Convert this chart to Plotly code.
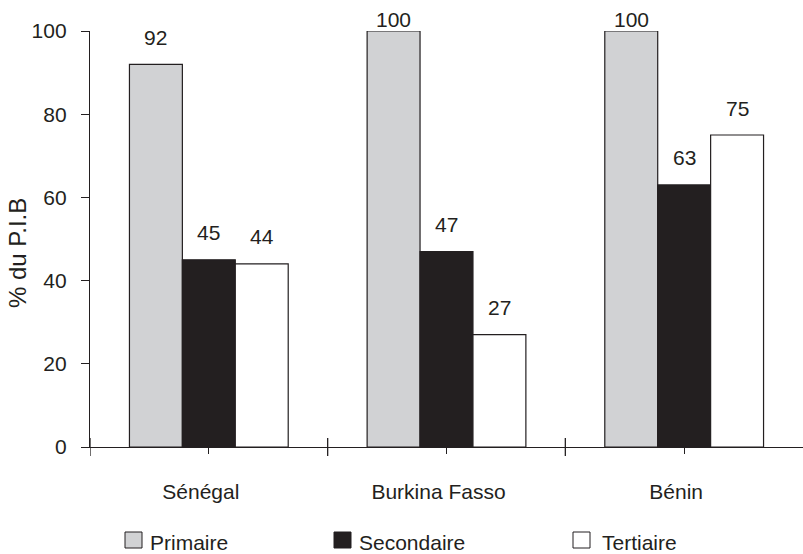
import plotly.graph_objects as go

# Data
countries = ["Sénégal", "Burkina Fasso", "Bénin"]
series_names = ["Primaire", "Secondaire", "Tertiaire"]
primaire = [92, 100, 100]
secondaire = [45, 47, 63]
tertiaire = [44, 27, 75]
y_ticks = [0, 20, 40, 60, 80, 100]

series_values = [primaire, secondaire, tertiaire]
fill_colors = ["#d1d2d4", "#231f20", "#ffffff"]
ink = "#231f20"
font_family = "Liberation Sans, Arial, Helvetica, sans-serif"
font_size = 21

W, H = 803, 554
M_L, M_R, M_T, M_B = 90, 0, 31, 107
PW, PH = W - M_L - M_R, H - M_T - M_B

bargap = 0.332
bar_w = (1 - bargap) / 3


def px_x(px):
    return (px - M_L) / PW


def px_y(py):
    return (H - M_B - py) / PH


fig = go.Figure()
x_idx = list(range(len(countries)))
for name, vals, col in zip(series_names, series_values, fill_colors):
    fig.add_trace(go.Bar(
        x=x_idx, y=vals, name=name, showlegend=False,
        marker=dict(color=col, line=dict(color=ink, width=1.2)),
    ))

# Value labels above each bar
annotations = []
for j, vals in enumerate(series_values):
    for i, v in enumerate(vals):
        annotations.append(dict(
            x=i + (j - 1) * bar_w, y=v, xref="x", yref="y",
            text=str(v), showarrow=False, yanchor="middle",
            yshift=12 if v >= 100 else 27,
            font=dict(family=font_family, size=font_size, color=ink),
        ))

# Y axis title
annotations.append(dict(
    x=0, y=px_y(253), xref="paper", yref="paper", xshift=-73,
    text="% du P.I.B", textangle=-90, showarrow=False,
    xanchor="center", yanchor="middle",
    font=dict(family=font_family, size=24, color=ink),
))

# Legend drawn as squares + labels along the bottom
shapes = []
legend_sq_x = [125, 334, 573]
legend_txt_x = [148, 357, 600]
for name, col, sx, tx in zip(series_names, fill_colors, legend_sq_x, legend_txt_x):
    shapes.append(dict(
        type="rect", xref="paper", yref="paper",
        x0=px_x(sx), x1=px_x(sx + 17), y0=px_y(548), y1=px_y(532),
        fillcolor=col, line=dict(color=ink, width=1),
    ))
    annotations.append(dict(
        x=px_x(tx), y=px_y(542), xref="paper", yref="paper",
        text=name, showarrow=False, xanchor="left", yanchor="middle",
        font=dict(family=font_family, size=font_size, color=ink),
    ))

# Category boundary ticks crossing the x axis
for b in [-0.5, 0.5, 1.5]:
    shapes.append(dict(
        type="line", xref="x", yref="paper", x0=b, x1=b,
        y0=px_y(456), y1=px_y(438),
        line=dict(color=ink, width=1.3),
    ))

fig.update_layout(
    width=W, height=H,
    margin=dict(l=M_L, r=M_R, t=M_T, b=M_B),
    paper_bgcolor="white", plot_bgcolor="white",
    barmode="group", bargap=bargap, bargroupgap=0,
    font=dict(family=font_family, size=font_size, color=ink),
    xaxis=dict(
        range=[-0.5, 2.5], tickmode="array", tickvals=x_idx, ticktext=countries,
        showline=True, linecolor=ink, linewidth=1.3,
        ticks="outside", ticklen=6, tickwidth=1.3, tickcolor=ink,
        ticklabelstandoff=20, ticklabelshift=-8,
        showgrid=False, zeroline=False,
    ),
    yaxis=dict(
        range=[0, 100], tickmode="array", tickvals=y_ticks,
        showline=True, linecolor=ink, linewidth=1.3,
        ticks="outside", ticklen=8, tickwidth=1.3, tickcolor=ink,
        ticklabelstandoff=10, showgrid=False, zeroline=False,
    ),
    annotations=annotations,
    shapes=shapes,
)

fig.write_html("out.html")
